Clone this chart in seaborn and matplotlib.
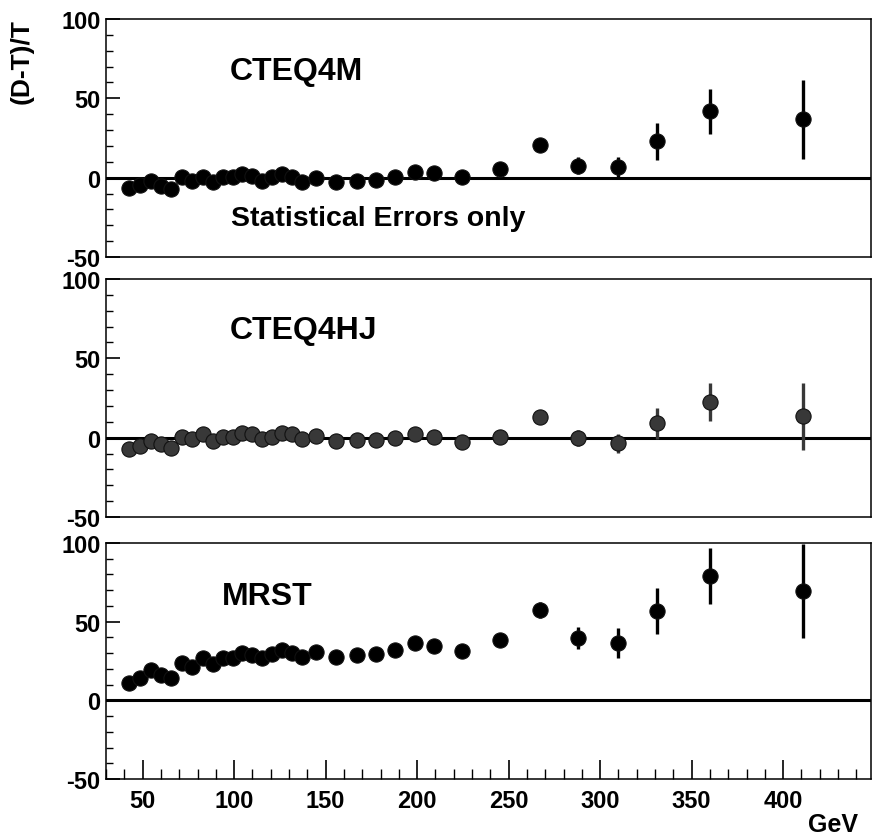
import numpy as np
import pandas as pd
import matplotlib
matplotlib.use("Agg")
import matplotlib.pyplot as plt
from matplotlib.ticker import MultipleLocator
import seaborn as sns
from matplotlib import font_manager

# ---------------- data ----------------
x_gev = [42.7, 48.6, 54.4, 60.0, 65.7, 71.4, 77.2, 82.8, 88.5, 93.8, 99.2,
         104.5, 110.0, 115.4, 120.9, 126.2, 131.8, 137.1, 145.0, 155.9, 166.9,
         177.3, 187.8, 198.8, 209.4, 224.7, 245.3, 267.0, 288.0, 309.8, 331.0,
         360.0, 410.9]

cteq4m = [-6.7, -4.6, -1.9, -5.2, -7.3, 0.3, -1.9, 0.6, -2.5, 0.3, 0.3,
          2.3, 1.1, -1.9, 0.3, 2.3, 0.6, -2.5, -0.4, -2.9, -2.1,
          -1.4, 0.6, 3.8, 2.8, 0.3, 5.5, 20.7, 7.6, 6.5, 22.8,
          41.8, 36.7]
cteq4m_err = [0.6, 0.6, 0.6, 0.6, 0.7, 0.7, 0.7, 0.7, 0.8, 0.8, 0.8,
              0.9, 0.9, 1.0, 1.0, 1.1, 1.1, 1.2, 1.2, 1.3, 1.4,
              1.5, 1.6, 1.8, 2.0, 2.2, 2.5, 3.5, 5.3, 6.8, 11.6,
              14.0, 24.7]

cteq4hj = [-7.4, -5.3, -2.1, -4.3, -6.4, 0.4, -1.1, 2.1, -2.1, 0.4, 0.4,
           3.2, 2.1, -0.6, 0.4, 3.2, 2.1, -1.1, 1.1, -2.1, -1.7,
           -1.7, -0.4, 2.1, 0.4, -2.6, 0.5, 13.2, 0.0, -3.5, 9.0,
           22.4, 13.5]
cteq4hj_err = [0.6, 0.6, 0.6, 0.6, 0.7, 0.7, 0.7, 0.7, 0.8, 0.8, 0.8,
               0.9, 0.9, 1.0, 1.0, 1.1, 1.1, 1.2, 1.2, 1.3, 1.4,
               1.5, 1.6, 1.8, 2.0, 2.2, 2.5, 3.2, 5.0, 6.0, 10.0,
               12.0, 21.0]

mrst = [11.1, 14.3, 19.5, 16.4, 14.5, 23.8, 21.3, 26.6, 22.9, 27.0, 26.6,
        30.4, 29.1, 27.0, 29.3, 31.8, 30.4, 27.6, 30.8, 27.6, 28.7,
        29.7, 32.3, 36.6, 34.4, 31.2, 38.5, 57.2, 39.5, 36.6, 56.8,
        78.9, 69.5]
mrst_err = [0.7, 0.7, 0.7, 0.7, 0.8, 0.8, 0.8, 0.9, 0.9, 0.9, 1.0,
            1.0, 1.1, 1.1, 1.2, 1.2, 1.3, 1.4, 1.5, 1.6, 1.7,
            1.8, 2.0, 2.2, 2.4, 2.7, 3.2, 5.0, 6.8, 9.5, 14.9,
            17.7, 30.0]

panel_names = ["CTEQ4M", "CTEQ4HJ", "MRST"]
y_ticks = [-50, 0, 50, 100]
x_ticks = [50, 100, 150, 200, 250, 300, 350, 400]

# ---------------- style ----------------
sns.set_theme(style="ticks")
names = {f.name for f in font_manager.fontManager.ttflist}
narrow = "Liberation Sans Narrow" if "Liberation Sans Narrow" in names else "Liberation Sans"
plt.rcParams['font.family'] = ['Liberation Sans', 'DejaVu Sans']
plt.rcParams['text.color'] = 'black'
plt.rcParams['axes.labelcolor'] = 'black'
plt.rcParams['xtick.color'] = 'black'
plt.rcParams['ytick.color'] = 'black'

W, H = 875, 837
fig = plt.figure(figsize=(W / 100, H / 100), dpi=100)

left = 106 / W
width = (871 - 106) / W
panels_px = [(20, 258), (280, 518), (544, 780)]

series = [(cteq4m, cteq4m_err), (cteq4hj, cteq4hj_err), (mrst, mrst_err)]
colors = ["black", "#383838", "black"]
label_pos = [(97.7, 67), (97.7, 68), (93.3, 66.5)]

tick_fs = 20 if narrow == "Liberation Sans Narrow" else 17

axes = []
for i, ((top, bot), (vals, errs)) in enumerate(zip(panels_px, series)):
    ax = fig.add_axes([left, 1 - bot / H, width, (bot - top) / H])
    axes.append(ax)
    df = pd.DataFrame({"GeV": x_gev, "ratio": vals, "err": errs})
    ax.errorbar(df["GeV"], df["ratio"], yerr=df["err"], fmt="none",
                ecolor=colors[i], elinewidth=2.4, capsize=0, zorder=3)
    sns.scatterplot(data=df, x="GeV", y="ratio", ax=ax, s=120,
                    color=colors[i], edgecolor="#111111", linewidth=0.8,
                    zorder=4, legend=False)
    ax.axhline(0, color="black", lw=2.2, zorder=2)
    ax.set_xlim(30, 448)
    ax.set_ylim(-50, 100)
    ax.set_xlabel("")
    ax.set_ylabel("")
    ax.yaxis.set_minor_locator(MultipleLocator(10))
    ax.set_yticks(y_ticks)
    ax.set_yticklabels([str(t) for t in y_ticks], fontfamily=narrow,
                       fontweight="bold", fontsize=tick_fs, color="black")
    ax.tick_params(axis="y", which="major", direction="in", length=10,
                   width=1.2, pad=4, color="black")
    ax.tick_params(axis="y", which="minor", direction="in", length=5,
                   width=1.0, color="black")
    for sp in ax.spines.values():
        sp.set_linewidth(1.1)
        sp.set_color("black")
    if i < 2:
        ax.set_xticks([])
        ax.tick_params(axis="x", which="both", bottom=False, labelbottom=False)
    else:
        ax.xaxis.set_minor_locator(MultipleLocator(10))
        ax.set_xticks(x_ticks)
        ax.set_xticklabels([str(t) for t in x_ticks], fontfamily=narrow,
                           fontweight="bold", fontsize=tick_fs, color="black")
        ax.tick_params(axis="x", which="major", direction="in", length=14,
                       width=1.2, pad=7, color="black")
        ax.tick_params(axis="x", which="minor", direction="in", length=7,
                       width=1.0, color="black")
    lx, ly = label_pos[i]
    ax.text(lx, ly, panel_names[i], fontsize=23, fontweight="bold",
            ha="left", va="center", color="black")

axes[0].text(98.5, -25.2, "Statistical Errors only", fontsize=20.5,
             fontweight="bold", ha="left", va="center", color="black")

fig.text(22 / W, 1 - 19 / H, "(D-T)/T", rotation=90, ha="center", va="top",
         fontsize=19, fontweight="bold", color="black")
fig.text(858 / W, 1 - 825 / H, "GeV", ha="right", va="center",
         fontsize=tick_fs + 1, fontweight="bold", fontfamily=narrow, color="black")

fig.savefig("out.png", dpi=100, facecolor="white")
